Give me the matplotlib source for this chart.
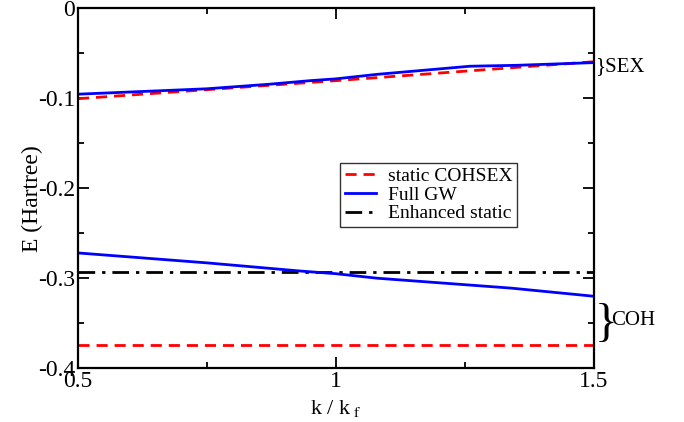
import matplotlib.pyplot as plt
from matplotlib.ticker import MultipleLocator

plt.rcParams['font.family'] = 'Liberation Serif'
plt.rcParams['mathtext.fontset'] = 'stix'

# data
k_gw_sex = [0.5, 0.75, 0.87, 0.95, 1.0, 1.08, 1.26, 1.35, 1.5]
e_gw_sex = [-0.096, -0.090, -0.085, -0.081, -0.079, -0.074, -0.065, -0.064, -0.061]
k_cs_sex = [0.5, 1.0, 1.5]
e_cs_sex = [-0.101, -0.081, -0.060]

k_gw_coh = [0.5, 0.75, 0.93, 1.0, 1.08, 1.34, 1.5]
e_gw_coh = [-0.272, -0.283, -0.292, -0.295, -0.300, -0.311, -0.320]
k_flat = [0.5, 1.5]
e_enh = [-0.293, -0.293]
e_cs_coh = [-0.374, -0.374]

fig = plt.figure(figsize=(6.84, 4.22), dpi=100)
ax = fig.add_axes([0.114, 0.127, 0.754, 0.855])

ax.plot(k_cs_sex, e_cs_sex, color='red', lw=2, ls=(0, (4, 2.5)), label='static COHSEX')
ax.plot(k_gw_sex, e_gw_sex, color='blue', lw=2, label='Full GW')
ax.plot(k_flat, e_enh, color='black', lw=2, ls=(0, (6, 2.5, 1.2, 2.5)), label='Enhanced static')
ax.plot(k_gw_coh, e_gw_coh, color='blue', lw=2)
ax.plot(k_flat, e_cs_coh, color='red', lw=2, ls=(0, (4, 2.5)))

ax.set_xlim(0.5, 1.5)
ax.set_ylim(-0.4, 0)
ax.xaxis.set_minor_locator(MultipleLocator(0.25))
ax.yaxis.set_minor_locator(MultipleLocator(0.05))
ax.set_xticks([0.5, 1.0, 1.5])
ax.set_xticklabels(['0.5', '1', '1.5'])
ax.set_yticks([0, -0.1, -0.2, -0.3, -0.4])
ax.set_yticklabels(['0', '-0.1', '-0.2', '-0.3', '-0.4'])
ax.tick_params(which='both', direction='in', top=True, right=True, labelsize=17, width=1.3)
ax.tick_params(which='major', length=8, pad=2)
ax.tick_params(which='minor', length=4)
for s in ax.spines.values():
    s.set_linewidth(1.6)

ax.set_xlabel(r'k / k$_{\mathrm{\ f}}$', fontsize=16, labelpad=4)
ax.set_ylabel('E (Hartree)', fontsize=17)
ax.yaxis.set_label_coords(-0.067, 0.47)

leg = ax.legend(loc='upper left', bbox_to_anchor=(0.508, 0.57), fontsize=14,
                frameon=True, fancybox=False, edgecolor='black',
                handlelength=1.6, borderpad=0.25, labelspacing=0.05,
                handletextpad=0.6, borderaxespad=0)
leg.get_frame().set_linewidth(1.0)

ax.text(1.502, -0.065, '}SEX', fontsize=15, va='center', ha='left', clip_on=False)
ax.text(1.502, -0.352, '}', fontsize=34, va='center', ha='left', clip_on=False)
ax.text(1.533, -0.347, 'COH', fontsize=15, va='center', ha='left', clip_on=False)

fig.savefig('out.png', dpi=100)
